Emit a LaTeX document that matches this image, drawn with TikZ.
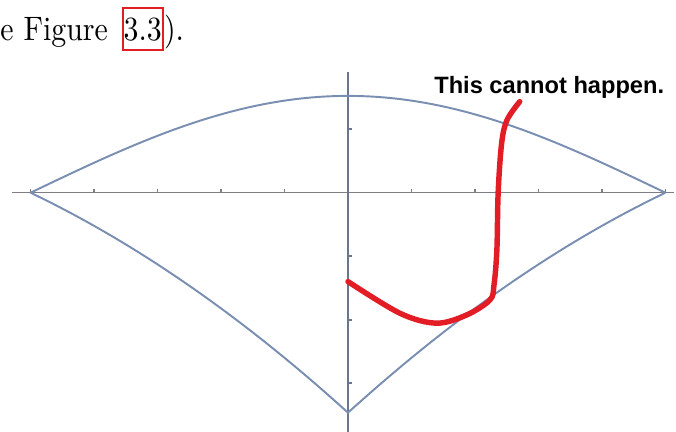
\documentclass[tikz,border=0pt]{standalone}
\usepackage{fontspec}
\newfontfamily\notefont{Liberation Sans}
\usetikzlibrary{positioning}
\definecolor{curveblue}{RGB}{122,142,178}
\definecolor{axisgray}{RGB}{125,127,132}
\definecolor{vaxisgray}{RGB}{105,118,140}
\definecolor{scribblered}{RGB}{226,29,38}
\newcommand\capfrag[1]{\scalebox{1.7}[1.93]{#1}}
\begin{document}
\begin{tikzpicture}[x=0.02cm, y=-0.02cm,
  curve/.style={draw=curveblue, line width=1.1pt},
  axis/.style={draw=axisgray, line width=0.9pt},
  vaxis/.style={draw=vaxisgray, line width=1pt},
  scribble/.style={draw=scribblered, line width=3.1pt, line cap=round, line join=round},
  reftext/.style={inner sep=0pt, font=\fontsize{10}{12}\selectfont}
]
\useasboundingbox (0,0) rectangle (676,432);

% caption fragment
\node[reftext, anchor=base west] (see) at (0,40.7) {\capfrag{e Figure}};
\node[reftext, anchor=base west, draw=scribblered, line width=1.2pt, inner xsep=0.5pt,
  text height=0.66cm, text depth=0.18cm] (ref) at (121.7,40.7) {\capfrag{3.3}};
\node[reftext, anchor=base west] (close) at (ref.base east) {\capfrag{).}};

% remark
\node[anchor=base west, inner sep=0pt, font={\notefont\bfseries\fontsize{13.45}{16}\selectfont}] (note) at (434,93.3) {This cannot happen.};

\begin{scope}[shift={(348,192.7)}, x=6.35cm, y=6.35cm]
% axes
\draw[axis] (-1.058,0) -- (1.028,0);
\draw[vaxis] (0,0.380) -- (0,-0.754);
\foreach \t in {-1,-0.8,-0.6,-0.4,-0.2,0.2,0.4,0.6,0.8,1}
  \draw[axis] (\t,0) -- (\t,0.013);
\foreach \t in {0.2,-0.2,-0.4,-0.6}
  \draw[vaxis] (0,\t) -- (0.013,\t);

% region
\draw[curve] plot[domain=-1:1, samples=80] (\x, {0.305*cos(90*\x)});
\draw[curve] plot[domain=-1:1, samples=61] (\x, {-0.693+0.907*abs(\x)-0.214*\x*\x});

% path
\draw[scribble] plot[smooth, tension=0.55] coordinates {
  (0,-0.280) (0.164,-0.380) (0.279,-0.411) (0.374,-0.385) (0.447,-0.338)
  (0.460,-0.290) (0.469,-0.180) (0.473,0) (0.484,0.156) (0.501,0.229) (0.541,0.287)};
\end{scope}
\end{tikzpicture}
\end{document}
